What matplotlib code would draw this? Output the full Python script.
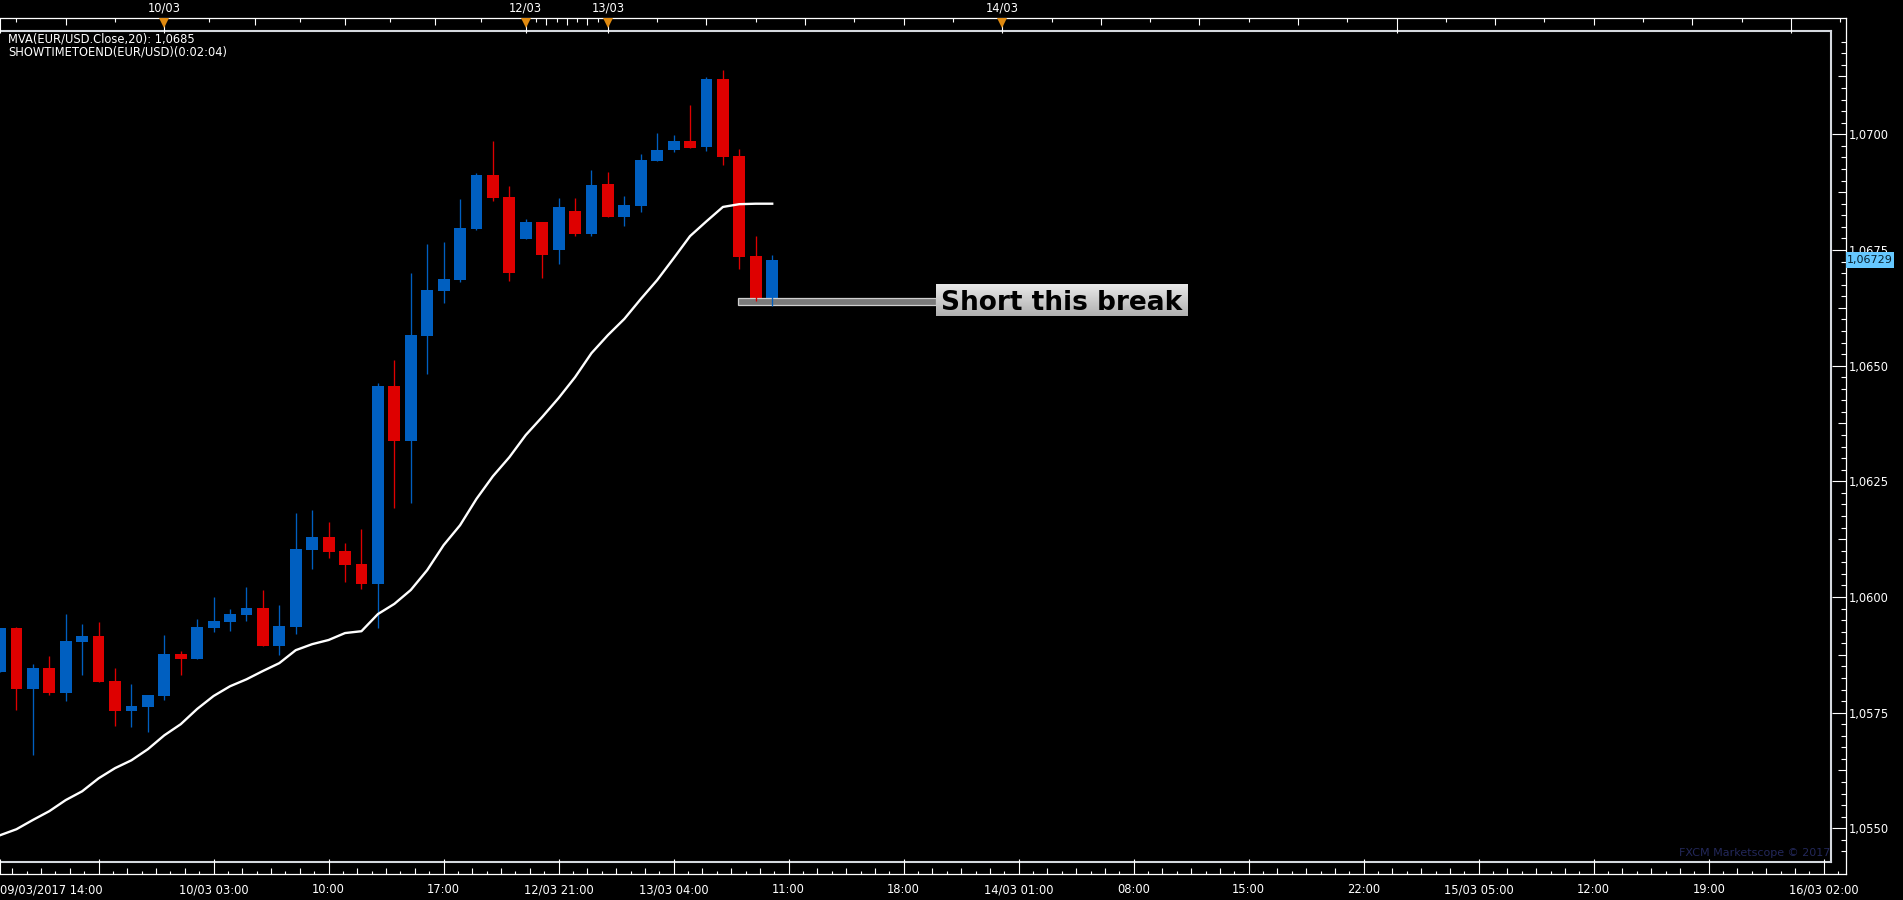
import matplotlib
matplotlib.use('Agg')
import numpy as np
import matplotlib.pyplot as plt
from matplotlib.patches import Rectangle

# Hourly EUR/USD candles
opens = [1.05838, 1.05933, 1.05801, 1.05846, 1.05792, 1.05902, 1.05915, 1.05818,
         1.05753, 1.05762, 1.05786, 1.05876, 1.05866, 1.05933, 1.05946, 1.05961,
         1.05976, 1.05894, 1.05935, 1.06101, 1.06129, 1.06099, 1.06071, 1.06028,
         1.06456, 1.06337, 1.06564, 1.06661, 1.06685, 1.06795, 1.06912, 1.06864,
         1.06773, 1.06810, 1.06750, 1.06834, 1.06784, 1.06892, 1.06821, 1.06845,
         1.06942, 1.06966, 1.06985, 1.06972, 1.07119, 1.06953, 1.06737, 1.06646]
closes = [1.05933, 1.05801, 1.05846, 1.05792, 1.05905, 1.05915, 1.05816, 1.05753,
          1.05764, 1.05788, 1.05876, 1.05866, 1.05935, 1.05948, 1.05963, 1.05976,
          1.05894, 1.05937, 1.06103, 1.06129, 1.06097, 1.06069, 1.06028, 1.06456,
          1.06337, 1.06566, 1.06663, 1.06687, 1.06797, 1.06912, 1.06862, 1.06700,
          1.06810, 1.06739, 1.06843, 1.06784, 1.06890, 1.06821, 1.06847, 1.06944,
          1.06966, 1.06985, 1.06970, 1.07119, 1.06951, 1.06735, 1.06644, 1.06729]
highs = [1.05933, 1.05935, 1.05855, 1.05872, 1.05963, 1.05941, 1.05946, 1.05846,
         1.05812, 1.05788, 1.05918, 1.05883, 1.05952, 1.06000, 1.05974, 1.06021,
         1.06015, 1.05982, 1.06181, 1.06188, 1.06162, 1.06116, 1.06147, 1.06462,
         1.06512, 1.06700, 1.06763, 1.06767, 1.06860, 1.06916, 1.06985, 1.06888,
         1.06817, 1.06810, 1.06862, 1.06862, 1.06923, 1.06918, 1.06866, 1.06957,
         1.07003, 1.06998, 1.07063, 1.07124, 1.07139, 1.06968, 1.06780, 1.06739]
lows = [1.05838, 1.05755, 1.05658, 1.05788, 1.05775, 1.05831, 1.05816, 1.05721,
        1.05719, 1.05708, 1.05777, 1.05831, 1.05866, 1.05924, 1.05926, 1.05948,
        1.05894, 1.05874, 1.05920, 1.06060, 1.06084, 1.06032, 1.06017, 1.05933,
        1.06192, 1.06203, 1.06482, 1.06635, 1.06681, 1.06793, 1.06856, 1.06683,
        1.06773, 1.06689, 1.06719, 1.06780, 1.06780, 1.06821, 1.06802, 1.06832,
        1.06942, 1.06962, 1.06970, 1.06964, 1.06933, 1.06709, 1.06639, 1.06629]

# 20 period moving average
mva = [1.05485, 1.05498, 1.05518, 1.05537, 1.05561, 1.05580, 1.05608, 1.05630,
       1.05647, 1.05671, 1.05701, 1.05725, 1.05758, 1.05786, 1.05807, 1.05822,
       1.05840, 1.05857, 1.05885, 1.05898, 1.05907, 1.05922, 1.05926, 1.05963,
       1.05985, 1.06015, 1.06058, 1.06112, 1.06155, 1.06212, 1.06261, 1.06302,
       1.06350, 1.06389, 1.06430, 1.06475, 1.06527, 1.06566, 1.06601, 1.06644,
       1.06685, 1.06732, 1.06780, 1.06812, 1.06843, 1.06849, 1.06850, 1.06850]

last_price = 1.06729

# Time axis
time_labels = ['09/03/2017 14:00', '10/03 03:00', '10:00', '17:00', '12/03 21:00',
               '13/03 04:00', '11:00', '18:00', '14/03 01:00', '08:00', '15:00',
               '22:00', '15/03 05:00', '12:00', '19:00', '16/03 02:00']
date_labels = ['10/03', '12/03', '13/03', '14/03']
date_bars = [10, 32, 37, 61]

# Break level box and its note
break_top = 1.06646
break_bottom = 1.06632
break_start = 44.93
note_start = 56.97
note_end = 72.3
note_top = 1.06676
note_bottom = 1.06607

W, H = 1903, 900
BAR_PX = 16.43
BLUE = '#005FC0'
RED = '#DE0000'
FRAME = '#D5D9DF'
FONT = 8.3


def price_at(py):
    return 1.07 - (py - 134.3) / 46267


def set_sizes(ticks, sizes, second=False):
    # each tick gets its own length in pixels
    for t, s in zip(ticks, sizes):
        line = t.tick2line if second else t.tick1line
        line.set_markersize(s * 0.72)
        line.set_markeredgewidth(0.8)
        line.set_markeredgecolor('white')


fig = plt.figure(figsize=(W / 100, H / 100), dpi=100, facecolor='black')

# Inner chart frame
left, right, top_px, bottom_px = 0, 1831, 31, 862
ax = fig.add_axes([left / W, 1 - bottom_px / H, (right - left) / W, (bottom_px - top_px) / H])
ax.set_facecolor('black')
ax.set_xlim(0, right / BAR_PX)
ax.set_ylim(price_at(bottom_px), price_at(top_px))
ax.set_xticks([])
ax.set_yticks([])
for side in ['top', 'right', 'bottom']:
    ax.spines[side].set_color(FRAME)
    ax.spines[side].set_linewidth(1.5)
ax.spines['left'].set_visible(False)

# Candles
bars = np.arange(len(opens))
colors = [BLUE if c >= o else RED for o, c in zip(opens, closes)]
ax.vlines(bars, lows, highs, colors=colors, linewidth=0.95, zorder=5)
ax.bar(bars, np.abs(np.array(closes) - np.array(opens)), bottom=np.minimum(opens, closes),
       width=0.72, color=colors, linewidth=0, zorder=2)

# Moving average
ax.plot(bars, mva, color='white', linewidth=1.7, zorder=6)

# Break level and note
ax.add_patch(Rectangle((break_start, break_bottom), note_start - break_start, break_top - break_bottom,
                       facecolor='#7A7A7A', edgecolor='#CFCFCF', linewidth=0.9, zorder=3))
grad = np.linspace(0.91, 0.69, 64).reshape(-1, 1)
ax.imshow(grad, extent=[note_start, note_end, note_bottom, note_top], origin='upper', aspect='auto',
          cmap='gray', vmin=0, vmax=1, zorder=7)
ax.set_xlim(0, right / BAR_PX)
ax.set_ylim(price_at(bottom_px), price_at(top_px))
ax.text((note_start + note_end) / 2, (note_top + note_bottom) / 2, 'Short this break', color='black',
        fontsize=19, fontweight='bold', family='DejaVu Sans', ha='center', va='center_baseline', zorder=8)

# Watermark
ax.text(0.9995, 0.0045, 'FXCM Marketscope \u00a9 2017', color='#23285A', fontsize=8,
        ha='right', va='bottom', transform=ax.transAxes, zorder=1)

# Outer scale box, same scale as the chart
o_right, o_top, o_bottom = 1845.7, 18.3, 874.3
outer = fig.add_axes([0, 1 - o_bottom / H, o_right / W, (o_bottom - o_top) / H], facecolor='none', zorder=5)
outer.set_xlim(0, o_right / BAR_PX)
outer.set_ylim(price_at(o_bottom), price_at(o_top))
outer.spines['left'].set_visible(False)
for side in ['top', 'right', 'bottom']:
    outer.spines[side].set_color('white')
    outer.spines[side].set_linewidth(0.9)

# Bottom ticks, 8 steps for every 7 bars
x_pos = [0.03, 6]
x_len = [15, 15]
x_lab = [time_labels[0], '']
for n in range(-6, 15 * 8 + 2):
    if n == 0:
        continue
    x_pos.append(6 + 0.875 * n)
    if n % 8 == 0:
        x_len.append(15)
        x_lab.append(time_labels[n // 8])
    else:
        x_len.append(6.5 if n % 2 == 0 else 3.5)
        x_lab.append('')
outer.set_xticks(x_pos)
outer.set_xticklabels(x_lab)
outer.tick_params(axis='x', direction='in', bottom=True, pad=6.5, colors='white', labelsize=FONT)
set_sizes(outer.xaxis.get_major_ticks(), x_len)
outer.get_xticklabels()[0].set_ha('left')

# Price ticks on the right
steps = np.arange(-62, 9)
y_pos = [1.07 + 0.00025 * k for k in steps]
y_len = [14 if k % 10 == 0 else (7.7 if k % 5 == 0 else 5) for k in steps]
y_lab = [f'{p:.4f}'.replace('.', ',') if k % 10 == 0 else '' for p, k in zip(y_pos, steps)]
outer.yaxis.tick_right()
outer.set_yticks(y_pos)
outer.set_yticklabels(y_lab)
outer.tick_params(axis='y', direction='in', pad=2.5, colors='white', labelsize=FONT)
set_sizes(outer.yaxis.get_major_ticks(), y_len, second=True)

# Top ticks
top_bars = [0.03, 1, 4, 7, 10, 12.75, 15.5, 18.25, 21, 23.75, 26.5, 29.25, 32,
            32.625, 33.25, 33.875, 34.5, 35.125, 35.75, 36.375, 37]
top_len = [15, 3.5, 6.5, 3.5, 15, 3.5, 6.5, 3.5, 6.5, 3.5, 6.5, 3.5, 15,
           3.5, 6.5, 3.5, 6.5, 3.5, 6.5, 3.5, 15]
for k, b in enumerate(range(40, 113, 3)):
    top_bars.append(b)
    if b == 61 or b == 85 or b == 109:
        top_len.append(15)
    else:
        top_len.append(3.5 if k % 2 == 0 else 6.5)
top_lab = [date_labels[date_bars.index(b)] if b in date_bars else '' for b in top_bars]
top = outer.twiny()
top.set_facecolor('none')
top.set_xlim(outer.get_xlim())
for side in top.spines.values():
    side.set_visible(False)
top.set_xticks(top_bars)
top.set_xticklabels(top_lab)
top.tick_params(axis='x', direction='in', top=True, pad=3, colors='white', labelsize=FONT)
set_sizes(top.xaxis.get_major_ticks(), top_len, second=True)
top.plot(date_bars, [0.9945] * len(date_bars), linestyle='none', marker='v', markersize=7.2, color='#E08A10',
         markeredgewidth=0, transform=top.get_xaxis_transform(), clip_on=False, zorder=6)

# Current price tag
tag = Rectangle((1.0, last_price - 0.00017), 48 / o_right, 0.00034, facecolor='#66C8FF', edgecolor='none',
                transform=outer.get_yaxis_transform(), clip_on=False, zorder=8)
outer.add_patch(tag)
outer.text(1.0 + 1 / o_right, last_price, f'{last_price:.5f}'.replace('.', ','), color='#06202E', fontsize=8,
           ha='left', va='center', transform=outer.get_yaxis_transform(), clip_on=False, zorder=9)

# Indicator legend
fig.text(8 / W, 1 - 39 / H, 'MVA(EUR/USD.Close,20): 1,0685', color='white', fontsize=FONT, va='center')
fig.text(8 / W, 1 - 52 / H, 'SHOWTIMETOEND(EUR/USD)(0:02:04)', color='white', fontsize=FONT, va='center')

fig.savefig('out.png', dpi=100, facecolor='black')
